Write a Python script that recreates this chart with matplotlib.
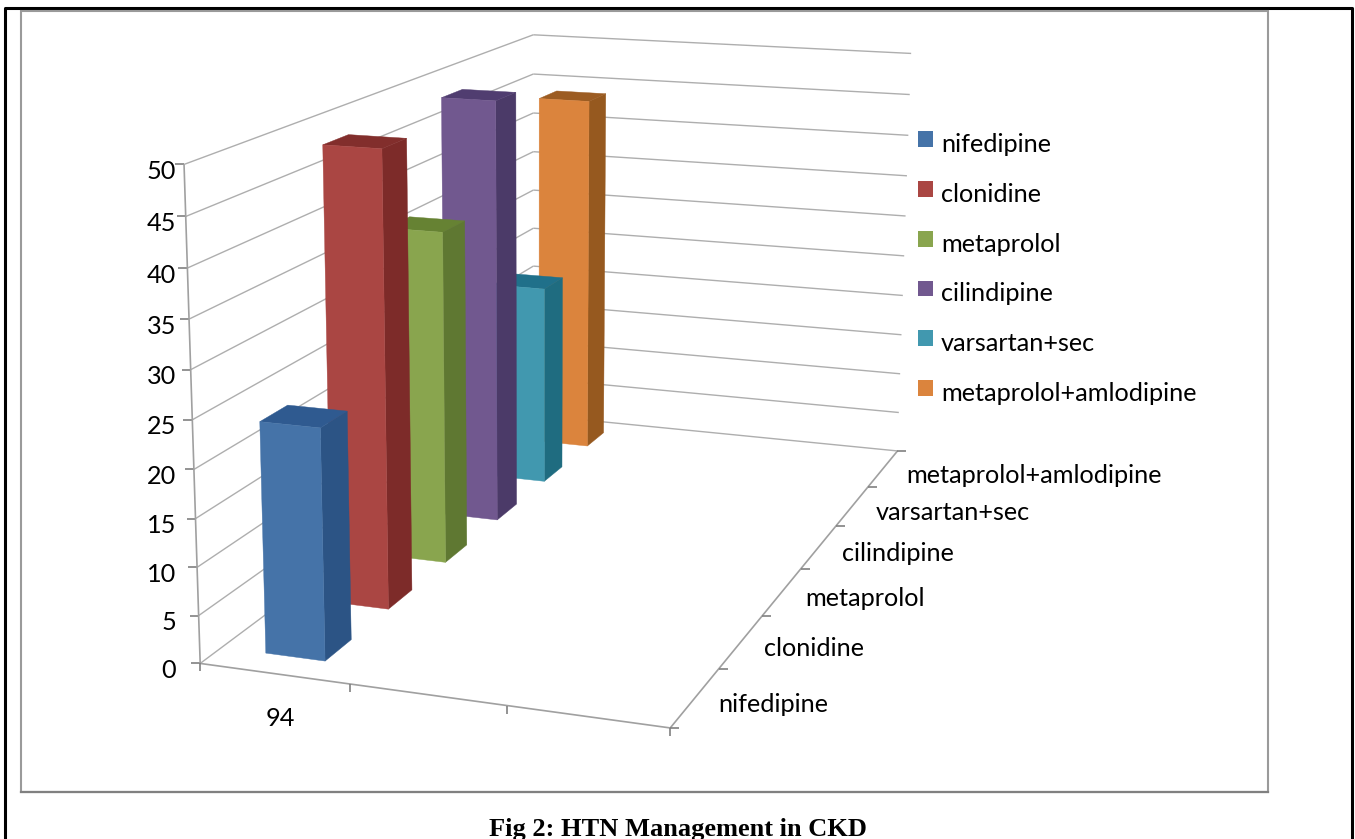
"""Excel style 3D column chart, HTN management in CKD."""
import numpy as np
import matplotlib
matplotlib.use('Agg')
import matplotlib.pyplot as plt
from matplotlib.patches import Patch, Rectangle

plt.rcParams['font.family'] = ['Lato', 'DejaVu Sans']

drugs = ['nifedipine', 'clonidine', 'metaprolol', 'cilindipine',
         'varsartan+sec', 'metaprolol+amlodipine']
values = [24, 48.7, 37, 48.7, 23.8, 43.8]
value_ticks = [0, 5, 10, 15, 20, 25, 30, 35, 40, 45, 50]
group_label = '94'
title = 'Fig 2: HTN Management in CKD'

front_colors = ['#4573A8', '#AA4643', '#89A54E', '#71588F', '#4198AF', '#DB843D']
side_colors = ['#2C5485', '#7D2B29', '#5F7832', '#4B3A68', '#1F6C80', '#96591F']
top_colors = ['#2F5A90', '#822E2C', '#668233', '#503D70', '#20708A', '#9C5C22']

# camera calibration: (width, depth, value) -> reference pixel, box is 3 x 6 x 50
calib = [
    (0, 0, 0, 201, 663), (1, 0, 0, 350, 687), (2, 0, 0, 504, 708), (3, 0, 0, 667, 727),
    (3, 1, 0, 719, 668), (3, 2, 0, 763, 615), (3, 3, 0, 802, 568), (3, 4, 0, 838, 525),
    (3, 5, 0, 870, 486), (3, 6, 0, 896, 451),
    (0, 0, 10, 198, 567), (0, 0, 20, 195, 469), (0, 0, 40, 187, 268), (0, 0, 50, 185, 164),
    (0, 6, 50, 533, 34), (0, 6, 45, 532, 74),
    (3, 6, 50, 912, 53), (3, 6, 45, 911, 95), (3, 6, 40, 907, 136), (3, 6, 30, 905, 217),
    (3, 6, 20, 903, 296), (3, 6, 5, 898, 413),
]


def fit_camera(points):
    """Direct linear transform, normalised so the SVD stays well behaved."""
    rows = []
    for x, d, z, u, v in points:
        p = [x / 3, d / 6, z / 50, 1]
        u, v = u / 1000, v / 1000
        rows.append(p + [0, 0, 0, 0] + [-u * c for c in p])
        rows.append([0, 0, 0, 0] + p + [-v * c for c in p])
    return np.linalg.svd(np.array(rows))[2][-1].reshape(3, 4)


cam = fit_camera(calib)


def proj(x, d, z):
    h = cam @ np.array([x / 3, d / 6, z / 50, 1])
    return h[0] / h[2] * 1000, h[1] / h[2] * 1000


fig = plt.figure(figsize=(13.55, 8.39), dpi=100)
ax = fig.add_axes([0, 0, 1, 1])
ax.set_xlim(0, 1355)
ax.set_ylim(839, 0)
ax.axis('off')

# page border and chart frame
ax.plot([5, 5, 1352, 1352], [839, 8, 8, 839], color='black', lw=2.2, zorder=1)
ax.add_patch(Rectangle((21, 10.5), 1247, 781, fc='white', ec='#9a9a9a', lw=1.5, zorder=1))
ax.plot([21, 1268], [792, 792], color='#808080', lw=1.6, zorder=1)

grid_c = '#aeaeae'
tick_c = '#808080'
text_size = 18.2


def seg(a, b, color=grid_c, lw=1.0):
    ax.plot([a[0], b[0]], [a[1], b[1]], color=color, lw=lw, zorder=2,
            solid_capstyle='butt')


for z in value_ticks:
    seg(proj(0, 0, z), proj(0, 6, z))
    seg(proj(0, 6, z), proj(3, 6, z))
    px, py = proj(0, 0, z)
    seg((px - 9, py), (px, py), tick_c, 1.2)
    ax.text(176, py + 7, str(z), ha='right', va='center', fontsize=text_size, color='black')

seg(proj(0, 0, 0), proj(0, 0, 50), '#a0a0a0', 1.2)
seg(proj(0, 0, 0), proj(3, 0, 0), '#a0a0a0', 1.2)
seg(proj(3, 0, 0), proj(3, 6, 0), '#a0a0a0', 1.2)

for x in range(4):
    px, py = proj(x, 0, 0)
    seg((px, py), (px, py + 8), tick_c, 1.2)

for d in range(7):
    px, py = proj(3, d, 0)
    seg((px, py), (px + 9, py), tick_c, 1.2)

for i, name in enumerate(drugs):
    px, py = proj(3, i + 0.5, 0)
    ax.text(px + 23, py + 7, name, ha='left', va='center', fontsize=text_size, color='black')

px, py = proj(0.5, 0, 0)
ax.text(px + 6, py + 45, group_label, ha='center', va='center', fontsize=text_size, color='black')

# back to front so nearer columns cover further ones
x0, x1 = 0.3, 0.7
for i in range(len(drugs) - 1, -1, -1):
    d0, d1 = i + 0.3, i + 0.7
    v = values[i]
    faces = [
        ([(x1, d0, 0), (x1, d1, 0), (x1, d1, v), (x1, d0, v)], side_colors[i]),
        ([(x0, d0, v), (x1, d0, v), (x1, d1, v), (x0, d1, v)], top_colors[i]),
        ([(x0, d0, 0), (x1, d0, 0), (x1, d0, v), (x0, d0, v)], front_colors[i]),
    ]
    for corners, color in faces:
        xy = [proj(*c) for c in corners]
        ax.fill([p[0] for p in xy], [p[1] for p in xy], color=color, lw=0.3, zorder=3)

handles = [Patch(fc=c, ec='none') for c in front_colors]
leg = ax.legend(handles, drugs, loc='upper left', bbox_to_anchor=(918 / 1355, 1 - 129 / 839),
                frameon=False, fontsize=text_size, handlelength=0.59, handleheight=0.59,
                handletextpad=0.32, labelspacing=1.06, borderpad=0, borderaxespad=0)
# labels sit a little lower than their swatches in the original
for t in leg.get_texts():
    t.set_y(-4)

ax.text(678, 836, title, ha='center', va='baseline', fontsize=19, fontweight='bold',
        family='Liberation Serif', color='black')

fig.savefig('out.png', dpi=100)
print('Done: out.png')
